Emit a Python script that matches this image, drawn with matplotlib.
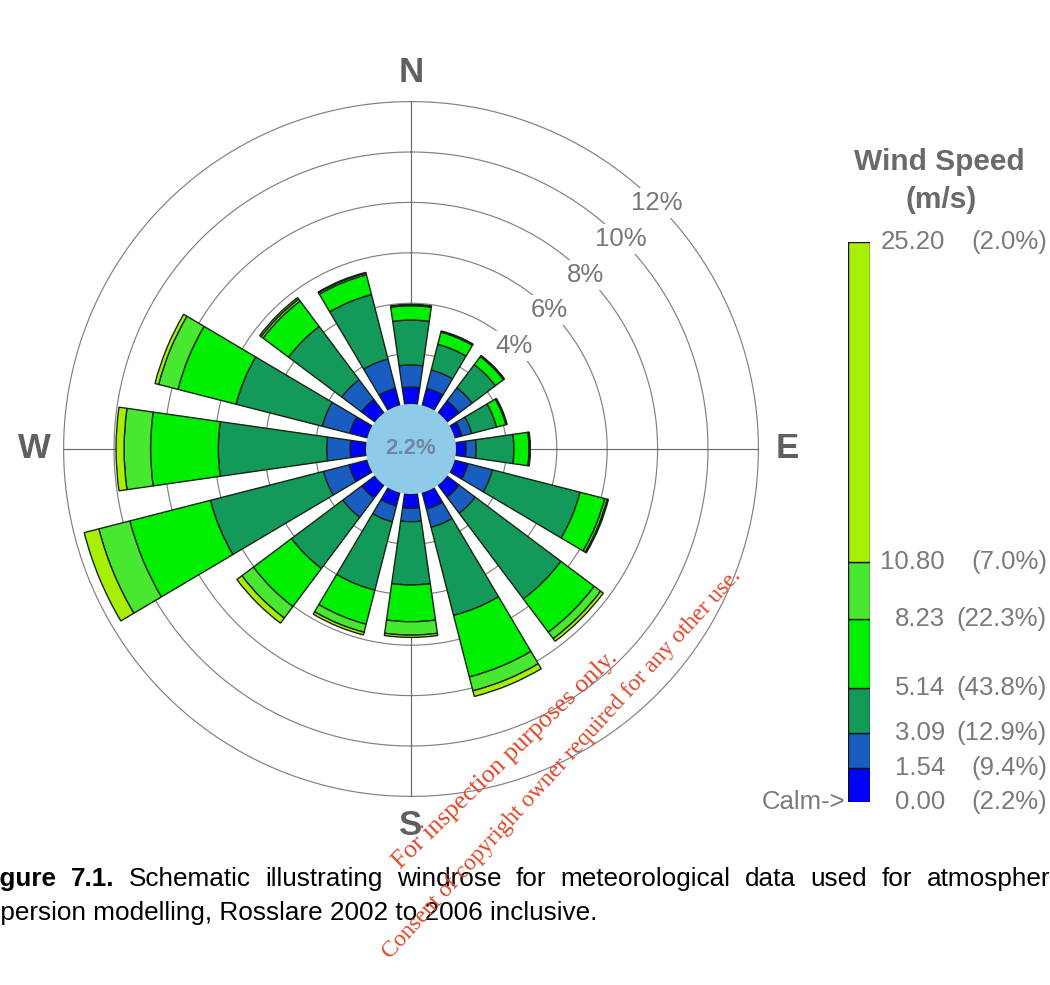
import numpy as np
import matplotlib
matplotlib.use('Agg')
import matplotlib.pyplot as plt

plt.rcParams['font.family'] = ['Liberation Sans', 'DejaVu Sans']

# ---------------- data ----------------
directions = ['N', 'NNE', 'NE', 'ENE', 'E', 'ESE', 'SE', 'SSE',
              'S', 'SSW', 'SW', 'WSW', 'W', 'WNW', 'NW', 'NNW']
# frequency (%) per direction for each wind-speed class (m/s)
f_000_154 = [0.67, 0.70, 0.60, 0.30, 0.40, 0.55, 0.60, 0.67, 0.57, 0.55, 0.65, 0.75, 0.63, 0.72, 0.67, 0.70]
f_154_309 = [0.88, 0.75, 0.65, 0.40, 0.40, 1.00, 0.80, 0.75, 0.53, 0.65, 0.95, 1.05, 0.93, 1.13, 0.98, 1.20]
f_309_514 = [1.78, 1.05, 1.15, 1.02, 1.50, 3.59, 4.25, 3.61, 2.51, 2.80, 2.54, 4.63, 4.30, 3.53, 2.64, 2.64]
f_514_823 = [0.57, 0.50, 0.40, 0.38, 0.60, 1.01, 1.65, 2.52, 1.46, 1.39, 1.89, 3.30, 2.69, 2.38, 1.26, 0.81]
f_823_1080 = [0.03, 0.02, 0.03, 0.03, 0.03, 0.10, 0.32, 0.57, 0.53, 0.33, 0.57, 1.27, 1.05, 0.79, 0.10, 0.07]
f_1080_2520 = [0.02, 0.03, 0.02, 0.02, 0.02, 0.05, 0.13, 0.23, 0.09, 0.11, 0.25, 0.60, 0.32, 0.15, 0.07, 0.03]

speed_edges = [0.00, 1.54, 3.09, 5.14, 8.23, 10.80, 25.20]
class_share = [9.4, 12.9, 43.8, 22.3, 7.0, 2.0]
calm_share = 2.2
ring_values = [2, 4, 6, 8, 10, 12]
ring_labels = [4, 6, 8, 10, 12]

# ---------------- style ----------------
colors = ['#0000FF', '#1A5DC0', '#13995A', '#00EE00', '#48E830', '#A8EE05']
calm_color = '#8ECBE9'
edge = '#142414'
grid_c = '#808080'
label_c = '#777777'

W, H = 1050, 985
fig = plt.figure(figsize=(W / 100, H / 100), dpi=100)
fig.patch.set_facecolor('white')

PX = 25.2            # pixels per 1 %
R0 = 45 / PX         # calm circle radius in data units
RMAX = R0 + 12.5
cx, cy = 411, 449
rp = RMAX * PX
ax = fig.add_axes([(cx - rp) / W, 1 - (cy + rp) / H, 2 * rp / W, 2 * rp / H],
                  projection='polar')
ax.set_theta_zero_location('N')
ax.set_theta_direction(-1)
ax.set_ylim(0, RMAX)
ax.axis('off')

th = np.linspace(0, 2 * np.pi, 721)
for k in ring_values:
    ax.plot(th, np.full_like(th, R0 + k), color=grid_c, lw=0.85, zorder=1)
for a in [0, np.pi / 2, np.pi, 3 * np.pi / 2]:
    ax.plot([a, a], [0, R0 + 12], color='#6A6A6A', lw=0.85, zorder=1)

theta = np.deg2rad(np.arange(len(directions)) * 22.5)
width = np.deg2rad(16.3)
bottom = np.full(len(directions), R0)
for vals, col in zip([f_000_154, f_154_309, f_309_514, f_514_823, f_823_1080, f_1080_2520], colors):
    v = np.array(vals)
    ax.bar(theta, v, width=width, bottom=bottom, color=col, edgecolor=edge,
           linewidth=1.0, zorder=2)
    bottom = bottom + v

ax.bar(0, R0, width=2 * np.pi, bottom=0, color=calm_color, edgecolor='none', zorder=3)
ax.text(0, 0, f'{calm_share:.1f}%', ha='center', va='center', fontsize=16,
        fontweight='bold', color='#7486A0', zorder=5)

for k in ring_labels:
    ax.text(np.pi / 4, R0 + k, f'{k}%', ha='center', va='center', fontsize=18.5,
            color=label_c, zorder=4,
            bbox=dict(boxstyle='square,pad=0.12', fc='white', ec='none'))

for ang, lab in zip([0, 90, 180, 270], ['N', 'E', 'S', 'W']):
    ax.text(np.deg2rad(ang), R0 + 13.15, lab, ha='center', va='center',
            fontsize=25, fontweight='bold', color='#606060')

# ---------------- legend ----------------
lb, lh = 1 - 802 / H, 560 / H
cax = fig.add_axes([848 / W, lb, 22 / W, lh])
cax.bar(0, np.diff(speed_edges), bottom=speed_edges[:-1], width=1.0,
        color=colors, edgecolor='#101010', linewidth=1.0)
cax.set_xlim(-0.5, 0.5)
cax.set_ylim(0, speed_edges[-1])
cax.axis('off')

shares = [calm_share] + class_share
for s, p in zip(speed_edges, shares):
    y = lb + s / speed_edges[-1] * lh
    fig.text(945 / W, y, f'{s:.2f}', ha='right', va='center', fontsize=18.5, color='#7A7A7A')
    fig.text(1047 / W, y, f'({p:.1f}%)', ha='right', va='center', fontsize=18.5, color='#7A7A7A')
fig.text(845 / W, lb, 'Calm->', ha='right', va='center', fontsize=18.5, color='#7A7A7A')
fig.text(939 / W, 1 - 162 / H, 'Wind Speed', ha='center', va='center', fontsize=21.5,
         fontweight='bold', color='#6A6A6A')
fig.text(941 / W, 1 - 200 / H, '(m/s)', ha='center', va='center', fontsize=21.5,
         fontweight='bold', color='#6A6A6A')

# ---------------- caption ----------------
renderer = fig.canvas.get_renderer()
cap_size = 18.8


def word_w(s, weight='normal'):
    t = fig.text(0, 0, s, fontsize=cap_size, fontweight=weight)
    w = t.get_window_extent(renderer).width
    t.remove()
    return w


words1 = ['Figure', '7.1.', 'Schematic', 'illustrating', 'windrose', 'for',
          'meteorological', 'data', 'used', 'for', 'atmospheric']
weights1 = ['bold', 'bold'] + ['normal'] * 9
ws = [word_w(w, wt) for w, wt in zip(words1, weights1)]
x0 = -word_w('Fi', 'bold')
x1 = W + word_w('ic')
gap = (x1 - x0 - sum(ws)) / (len(words1) - 1)
x = x0
for w, wt, wd in zip(words1, weights1, ws):
    fig.text(x / W, 1 - 886 / H, w, fontsize=cap_size, fontweight=wt,
             ha='left', va='baseline', color='black')
    x += wd + gap

fig.text(-word_w('dis') / W, 1 - 920 / H,
         'dispersion modelling, Rosslare 2002 to 2006 inclusive.',
         fontsize=cap_size, ha='left', va='baseline', color='black')

# ---------------- watermark ----------------
wm = dict(family=['Liberation Serif', 'DejaVu Serif'], color='#E0462A',
          rotation_mode='anchor', ha='center', va='center')
fig.text(505 / W, 1 - 760 / H, 'For inspection purposes only.', fontsize=18.5,
         rotation=44, **wm)
fig.text(562 / W, 1 - 764 / H, 'Consent of copyright owner required for any other use.',
         fontsize=17, rotation=47.5, **wm)

fig.savefig('out.png', dpi=100, facecolor='white')
